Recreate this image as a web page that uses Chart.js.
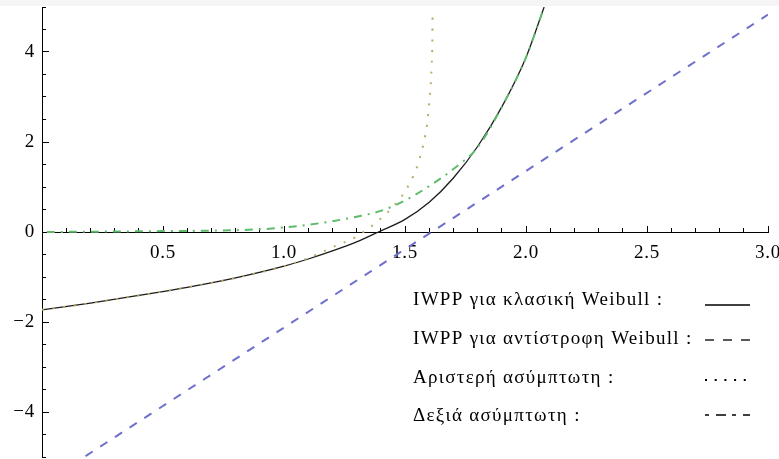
<!DOCTYPE html>
<html>
<head>
<meta charset="utf-8">
<script src="https://cdn.jsdelivr.net/npm/chart.js@4.4.1/dist/chart.umd.min.js"></script>
<style>
  html, body { margin: 0; padding: 0; background: #fff; }
  #wrap { position: relative; width: 779px; height: 459px;
          background: linear-gradient(#f5f5f5 0, #f5f5f5 6px, #fff 6px); }
</style>
</head>
<body>
<div id="wrap"><canvas id="iwpp"></canvas></div>
<script>
// IWPP for the classic Weibull
const xClassic = [0, 0.2, 0.4, 0.6, 0.8, 1.0, 1.1, 1.2, 1.3, 1.39, 1.5, 1.6, 1.7, 1.8, 1.9, 2.0, 2.075];
const yClassic = [-1.73, -1.58, -1.41, -1.23, -1.02, -0.76, -0.6, -0.42, -0.22, 0, 0.28, 0.66, 1.2, 1.9, 2.78, 3.88, 5.0];

// IWPP for the inverse Weibull (a straight line)
const xInverse = [0.18, 1.61, 3.0];
const yInverse = [-4.98, 0, 4.83];

// left asymptote
const xLeft = [0, 0.2, 0.4, 0.6, 0.8, 1.0, 1.1, 1.2, 1.3, 1.4, 1.45, 1.5, 1.55, 1.576, 1.585, 1.592, 1.6, 1.606, 1.61, 1.613, 1.614];
const yLeft = [-1.73, -1.58, -1.41, -1.23, -1.02, -0.76, -0.58, -0.34, -0.1, 0.3, 0.56, 0.9, 1.45, 1.95, 2.18, 2.43, 2.85, 3.25, 3.7, 4.2, 4.9];

// right asymptote
const xRight = [0.02, 0.3, 0.5, 0.7, 0.9, 1.0, 1.1, 1.2, 1.3, 1.4, 1.5, 1.6, 1.7, 1.8, 1.9, 2.0, 2.075];
const yRight = [0.0, 0.01, 0.02, 0.03, 0.06, 0.1, 0.16, 0.24, 0.34, 0.47, 0.7, 1.02, 1.4, 1.88, 2.78, 3.88, 5.0];

const xTicksMajor = [0.5, 1.0, 1.5, 2.0, 2.5, 3.0];
const xTicksMinor = [0.1, 0.2, 0.3, 0.4, 0.6, 0.7, 0.8, 0.9, 1.1, 1.2, 1.3, 1.4, 1.6, 1.7, 1.8, 1.9,
                     2.1, 2.2, 2.3, 2.4, 2.6, 2.7, 2.8, 2.9];
const yTicksMajor = [-4, -2, 0, 2, 4];
const yTicksMinor = [-5, -4.5, -3.5, -3, -2.5, -1.5, -1, -0.5, 0.5, 1, 1.5, 2.5, 3, 3.5, 4.5, 5];

const keyLabels = [
    'IWPP για κλασική Weibull :',
    'IWPP για αντίστροφη Weibull :',
    'Αριστερή ασύμπτωτη :',
    'Δεξιά ασύμπτωτη :'
];

const SERIF = '"Liberation Serif", "Times New Roman", serif';

function pts(xs, ys) {
    return xs.map((x, i) => ({ x: x, y: ys[i] }));
}

function fixedTicks(values) {
    return (scale) => { scale.ticks = values.map(v => ({ value: v })); };
}

function noPadding(scale) {
    scale.paddingLeft = 0;
    scale.paddingRight = 0;
    scale.paddingTop = 0;
    scale.paddingBottom = 0;
}

function minus(v) {
    return v < 0 ? '\u2212' + Math.abs(v) : String(v);
}

// slightly wider letters for all canvas text (ticks and key)
const wideText = {
    id: 'wideText',
    beforeDraw(chart, args, opts) {
        if ('letterSpacing' in chart.ctx) chart.ctx.letterSpacing = opts.spacing;
    },
    afterDraw(chart) {
        if ('letterSpacing' in chart.ctx) chart.ctx.letterSpacing = '0px';
    }
};

// key in the lower right: text on the left, black line samples on the right
const curveKey = {
    id: 'curveKey',
    afterDraw(chart, args, opts) {
        const ctx = chart.ctx;
        ctx.save();
        ctx.font = opts.fontSize + 'px ' + SERIF;
        if ('letterSpacing' in ctx) ctx.letterSpacing = opts.spacing;
        ctx.fillStyle = '#000';
        ctx.strokeStyle = '#000';
        ctx.textBaseline = 'middle';
        keyLabels.forEach((label, i) => {
            ctx.fillText(label, opts.textX, opts.textY[i]);
            ctx.save();
            ctx.beginPath();
            ctx.rect(opts.lineX0, opts.lineY[i] - 3, opts.lineX1 - opts.lineX0, 6);
            ctx.clip();
            ctx.setLineDash(opts.dashes[i]);
            ctx.lineWidth = opts.widths[i];
            ctx.beginPath();
            ctx.moveTo(opts.lineX0, opts.lineY[i]);
            ctx.lineTo(opts.lineX1 + 10, opts.lineY[i]);
            ctx.stroke();
            ctx.restore();
        });
        ctx.restore();
    }
};

const tickFont = { family: SERIF, size: 19 };

new Chart(document.getElementById('iwpp'), {
    type: 'line',
    data: {
        datasets: [
            { label: 'Αριστερή ασύμπτωτη', data: pts(xLeft, yLeft), borderColor: '#bcaa66', borderWidth: 2, borderDash: [2, 8.7] },
            { label: 'Δεξιά ασύμπτωτη', data: pts(xRight, yRight), borderColor: '#5cbc6a', borderWidth: 2, borderDash: [8, 6, 2, 6] },
            { label: 'IWPP για αντίστροφη Weibull', data: pts(xInverse, yInverse), borderColor: '#6f6fcc', borderWidth: 2, borderDash: [8.5, 9], tension: 0 },
            { label: 'IWPP για κλασική Weibull', data: pts(xClassic, yClassic), borderColor: '#1c1c1c', borderWidth: 1.3 }
        ]
    },
    options: {
        responsive: true,
        maintainAspectRatio: false,
        animation: false,
        events: [],
        layout: { padding: { top: 7, right: 11, bottom: 2, left: 0 } },
        elements: {
            point: { radius: 0 },
            line: { cubicInterpolationMode: 'monotone', fill: false }
        },
        plugins: {
            legend: { display: false },
            tooltip: { enabled: false },
            wideText: { spacing: '0.8px' },
            curveKey: {
                fontSize: 19,
                spacing: '1.3px',
                textX: 413,
                textY: [300, 339.5, 378, 416],
                lineX0: 705,
                lineX1: 750,
                lineY: [305, 340, 380, 415],
                widths: [1.3, 1.3, 2, 1.3],
                dashes: [[], [9, 9], [2, 7.7], [4, 7, 10, 6]]
            }
        },
        scales: {
            x: {
                type: 'linear', axis: 'x', min: 0, max: 3,
                position: { y: 0 },
                afterBuildTicks: fixedTicks(xTicksMajor),
                afterFit: noPadding,
                grid: { drawOnChartArea: false, tickLength: -7, tickColor: '#000', tickWidth: 1 },
                border: { display: true, color: '#000', width: 1 },
                ticks: { autoSkip: false, maxRotation: 0, padding: 17, color: '#000', font: tickFont,
                         callback: (v) => v.toFixed(1) }
            },
            xMinor: {
                type: 'linear', axis: 'x', min: 0, max: 3,
                position: { y: 0 },
                afterBuildTicks: fixedTicks(xTicksMinor),
                afterFit: noPadding,
                grid: { drawOnChartArea: false, tickLength: -4, tickColor: '#000', tickWidth: 1 },
                border: { display: false },
                ticks: { display: false }
            },
            y: {
                type: 'linear', axis: 'y', min: -5, max: 5,
                position: 'left',
                afterBuildTicks: fixedTicks(yTicksMajor),
                afterFit: (scale) => { noPadding(scale); scale.width = 42; },
                grid: { drawOnChartArea: false, tickLength: -7, tickColor: '#000', tickWidth: 1 },
                border: { display: true, color: '#000', width: 1 },
                ticks: { autoSkip: false, padding: 14, color: '#000', font: tickFont, callback: minus }
            },
            yMinor: {
                type: 'linear', axis: 'y', min: -5, max: 5,
                position: { x: 0 },
                afterBuildTicks: fixedTicks(yTicksMinor),
                afterFit: noPadding,
                grid: { drawOnChartArea: false, tickLength: -4, tickColor: '#000', tickWidth: 1 },
                border: { display: false },
                ticks: { display: false }
            }
        }
    },
    plugins: [wideText, curveKey]
});
</script>
</body>
</html>
